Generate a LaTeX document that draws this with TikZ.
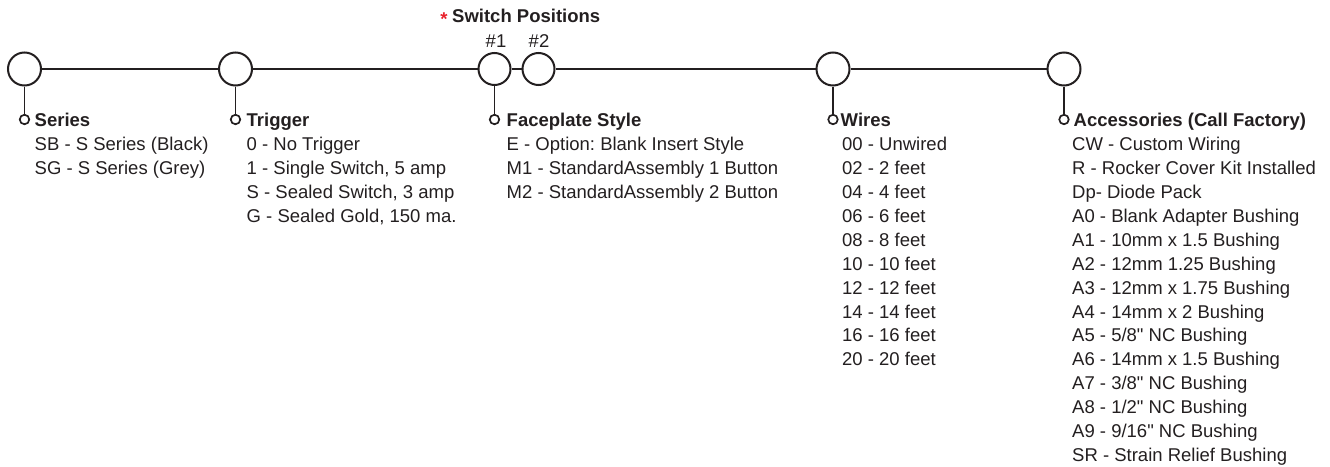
\documentclass[tikz,border=0pt]{standalone}
\usepackage{fontspec}
\setmainfont{Liberation Sans}
\frenchspacing
\definecolor{ink}{HTML}{231F20}
\definecolor{star}{HTML}{E8212B}
\tikzset{
  big/.style={circle,draw=ink,line width=2pt,minimum size=33pt,inner sep=0pt},
  sw/.style={circle,draw=ink,line width=2pt,minimum size=32pt,inner sep=0pt},
  small/.style={circle,draw=ink,line width=1.7pt,minimum size=9.5pt,inner sep=0pt},
  wire/.style={draw=ink,line width=2pt},
  stem/.style={draw=ink,line width=1.8pt},
  ttl/.style={anchor=base west,inner sep=0pt,font=\fontsize{18.5}{24}\selectfont\bfseries,text=ink},
  itm/.style={anchor=base west,inner sep=0pt,font=\fontsize{18.5}{24}\selectfont,text=ink},
  num/.style={anchor=base,inner sep=0pt,font=\fontsize{18.5}{24}\selectfont,text=ink}
}
\begin{document}
\begin{tikzpicture}[x=1pt,y=-1pt]
\useasboundingbox (0,0) rectangle (1330,466);
% main circles
\node[big] (c1) at (24.5,69) {};
\node[big] (c2) at (235.5,69) {};
\node[sw]  (c3) at (494.5,69) {};
\node[sw]  (c4) at (538.5,69) {};
\node[big] (c5) at (833,69) {};
\node[big] (c6) at (1064,69) {};
\draw[wire] (c1.east) -- (c2.west);
\draw[wire] (c2.east) -- (c3.west);
\draw[wire] (c3.east) -- (c4.west);
\draw[wire] (c4.east) -- (c5.west);
\draw[wire] (c5.east) -- (c6.west);
% stems
\node[small] (s1) at (24.5,119.5) {};
\node[small] (s2) at (235.5,119.5) {};
\node[small] (s3) at (494.5,119.5) {};
\node[small] (s5) at (833,119.5) {};
\node[small] (s6) at (1064,119.5) {};
\draw[stem] (c1.south) -- (s1.north);
\draw[stem] (c2.south) -- (s2.north);
\draw[stem] (c3.south) -- (s3.north);
\draw[stem] (c5.south) -- (s5.north);
\draw[stem] (c6.south) -- (s6.north);
% switch positions
\node[anchor=center,inner sep=0pt,text=star,font=\fontsize{18.5}{24}\selectfont\bfseries] (ast) at (444,19) {*};
\node[ttl] (swt) at (452,22) {Switch Positions};
\node[num] (n1) at (496,47) {\#1};
\node[num] (n2) at (539,47) {\#2};
% Series
\node[ttl] (t1) at (34.5,126) {Series};
\foreach \t [count=\i from 0] in {SB - S Series (Black),SG - S Series (Grey)}
  \node[itm] (a\i) at (34.5,150.7+23.9*\i) {\t};
% Trigger
\node[ttl] (t2) at (246.5,126) {Trigger};
\foreach \t [count=\i from 0] in {0 - No Trigger,{1 - Single Switch, 5 amp},{S - Sealed Switch, 3 amp},{G - Sealed Gold, 150 ma.}}
  \node[itm] (b\i) at (246.5,150.7+23.9*\i) {\t};
% Faceplate
\node[ttl] (t3) at (506.5,126) {Faceplate Style};
\foreach \t [count=\i from 0] in {E - Option: Blank Insert Style,M1 - StandardAssembly 1 Button,M2 - StandardAssembly 2 Button}
  \node[itm] (d\i) at (506.5,150.7+23.9*\i) {\t};
% Wires
\node[ttl] (t5) at (840.5,126) {Wires};
\foreach \t [count=\i from 0] in {00 - Unwired,02 - 2 feet,04 - 4 feet,06 - 6 feet,08 - 8 feet,10 - 10 feet,12 - 12 feet,14 - 14 feet,16 - 16 feet,20 - 20 feet}
  \node[itm] (w\i) at (842,150.7+23.9*\i) {\t};
% Accessories
\node[ttl] (t6) at (1073.5,126) {Accessories (Call Factory)};
\foreach \t [count=\i from 0] in {CW - Custom Wiring,R - Rocker Cover Kit Installed,Dp- Diode Pack,A0 - Blank Adapter Bushing,A1 - 10mm x 1.5 Bushing,A2 - 12mm 1.25 Bushing,A3 - 12mm x 1.75 Bushing,A4 - 14mm x 2 Bushing,A5 - 5/8\textquotedbl{} NC Bushing,A6 - 14mm x 1.5 Bushing,A7 - 3/8\textquotedbl{} NC Bushing,A8 - 1/2\textquotedbl{} NC Bushing,A9 - 9/16\textquotedbl{} NC Bushing,SR - Strain Relief Bushing}
  \node[itm] (x\i) at (1072,150.7+23.9*\i) {\t};
\end{tikzpicture}
\end{document}
